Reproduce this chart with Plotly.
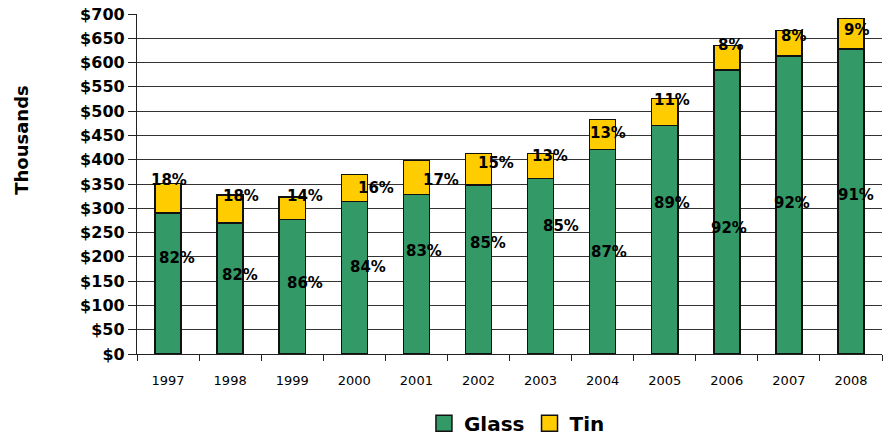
import plotly.graph_objects as go

years = ["1997", "1998", "1999", "2000", "2001", "2002", "2003", "2004", "2005", "2006", "2007", "2008"]
glass = [290, 270, 277, 314, 328, 348, 361, 421, 470, 585, 614, 628]
tin = [61, 57, 46.5, 56, 70, 65, 52, 61.5, 56, 50, 52, 62.5]
glass_pct = ["82%", "82%", "86%", "84%", "83%", "85%", "85%", "87%", "89%", "92%", "92%", "91%"]
tin_pct = ["18%", "18%", "14%", "16%", "17%", "15%", "13%", "13%", "11%", "8%", "8%", "9%"]
y_ticks = list(range(0, 701, 50))
y_tick_text = ["$" + str(v) for v in y_ticks]

# label placement (manually dragged labels in the original)
glass_lbl_y = [197, 162, 147, 180, 212, 228, 263, 211, 311, 260, 311, 327]
glass_lbl_dx = [9, 10, 13, 14, 8, 10, 20, 6, 7, 2, 3, 5]
tin_lbl_y = [359, 326, 326, 342, 359, 393, 408, 456, 523, 636, 655, 668]
tin_lbl_dx = [1, 11, 13, 22, 25, 18, 9, 5, 7, 4, 5, 6]

FONT = "DejaVu Sans"
GREEN = "#339966"
YELLOW = "#FFCC00"

fig = go.Figure()
fig.add_trace(go.Bar(x=years, y=glass, name="Glass", showlegend=False,
                     marker=dict(color=GREEN, line=dict(color="#111111", width=1.5)), width=0.42))
fig.add_trace(go.Bar(x=years, y=tin, name="Tin", showlegend=False,
                     marker=dict(color=YELLOW, line=dict(color="#111111", width=1.5)), width=0.42))
# legend entries with larger square swatches
for nm, col in [("Glass", GREEN), ("Tin", YELLOW)]:
    fig.add_trace(go.Scatter(x=[None], y=[None], mode="markers", name=nm,
                             marker=dict(symbol="square", size=18, color=col, line=dict(color="#111111", width=1.5))))

for i, yr in enumerate(years):
    fig.add_annotation(x=i, y=glass_lbl_y[i], text=glass_pct[i], showarrow=False, xshift=glass_lbl_dx[i],
                       font=dict(family=FONT, size=15, color="black", weight="bold"))
    fig.add_annotation(x=i, y=tin_lbl_y[i], text=tin_pct[i], showarrow=False, xshift=tin_lbl_dx[i],
                       font=dict(family=FONT, size=15, color="black", weight="bold"))

fig.add_annotation(xref="paper", yref="paper", x=0, y=0.63, xanchor="center", yanchor="middle",
                   xshift=-115, text="Thousands", textangle=-90,
                   showarrow=False, font=dict(family=FONT, size=18, color="black", weight="bold"))

fig.update_layout(
    barmode="stack",
    width=886, height=445,
    margin=dict(l=137, r=4, t=14, b=90),
    plot_bgcolor="white", paper_bgcolor="white",
    showlegend=True,
    legend=dict(orientation="h", x=0.51, xanchor="center", y=-0.257, yanchor="bottom", traceorder="normal",
                font=dict(family=FONT, size=20, color="black", weight="bold"), itemwidth=30),
    font=dict(family=FONT, color="black"),
)
fig.update_yaxes(range=[0, 700], tickvals=y_ticks, ticktext=y_tick_text, automargin=False,
                 ticklabeloverflow="allow",
                 showgrid=True, gridcolor="#333333", gridwidth=1.3,
                 showline=True, linecolor="#222222", linewidth=1.3,
                 ticks="outside", ticklen=8, tickcolor="#222222",
                 tickfont=dict(family=FONT, size=16, color="black", weight="bold"),
                 zeroline=False)
fig.update_xaxes(type="category", range=[-0.5, 11.5], automargin=False,
                 showline=True, linecolor="#222222", linewidth=1.3,
                 ticks="outside", ticklen=6, tickcolor="#222222", tickson="boundaries",
                 ticklabelstandoff=14,
                 tickfont=dict(family=FONT, size=13, color="black"), tickangle=0, showgrid=False)

fig.write_html("out.html", config={"displayModeBar": False},
               post_script="document.body.style.margin='0';document.body.style.overflow='hidden';")
